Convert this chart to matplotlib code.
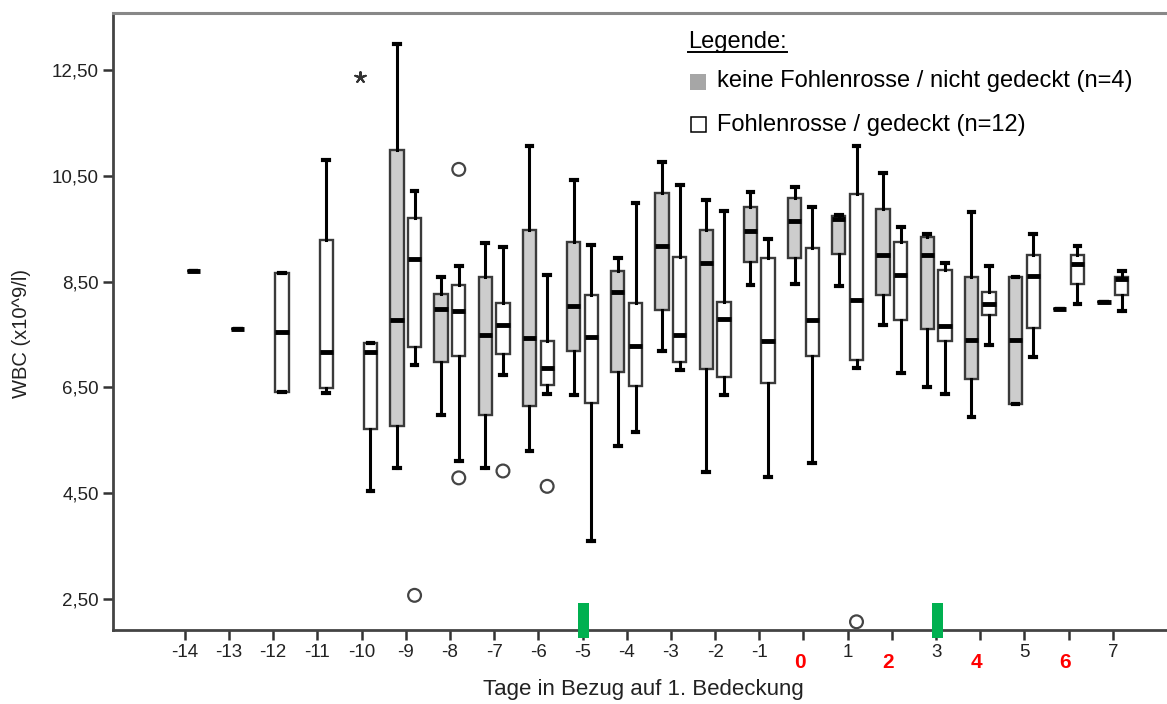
"""WBC boxplots per day relative to first covering, two mare groups"""

import matplotlib
matplotlib.use("Agg")
import matplotlib.pyplot as plt
from matplotlib.patches import Rectangle
from matplotlib.lines import Line2D

plt.rcParams["font.family"] = ["Liberation Sans", "DejaVu Sans"]

W, H = 1167, 704

# days with data, group without foal heat (grey boxes)
gray_days = [-9, -8, -7, -6, -5, -4, -3, -2, -1, 0, 1, 2, 3, 4, 5, 6, 7]
gray_lo = [4.98, 5.98, 4.98, 5.29, 6.36, 5.40, 7.18, 4.90, 8.44, 8.46, 8.42, 7.67, 6.50, 5.94, 6.19, 7.98, 8.11]
gray_q1 = [5.77, 6.98, 5.98, 6.14, 7.18, 6.79, 7.97, 6.84, 8.86, 8.94, 9.02, 8.25, 7.61, 6.66, 6.19, 7.98, 8.11]
gray_med = [7.78, 7.99, 7.49, 7.43, 8.03, 8.30, 9.17, 8.85, 9.45, 9.65, 9.68, 9.01, 9.01, 7.39, 7.40, 7.98, 8.11]
gray_q3 = [10.98, 8.27, 8.59, 9.47, 9.24, 8.69, 10.18, 9.48, 9.90, 10.07, 9.74, 9.87, 9.34, 8.59, 8.59, 7.98, 8.11]
gray_hi = [12.98, 8.58, 9.23, 11.06, 10.41, 8.95, 10.76, 10.04, 10.20, 10.28, 9.76, 10.55, 9.39, 9.81, 8.59, 7.98, 8.11]

# group with foal heat / covered (white boxes)
white_days = list(range(-14, 8))
white_lo = [8.69, 7.61, 6.41, 6.39, 4.54, 6.92, 5.11, 6.74, 6.37, 3.60, 5.66,
            6.82, 6.36, 4.81, 5.08, 6.86, 6.78, 6.37, 7.31, 7.07, 8.08, 7.94]
white_q1 = [8.69, 7.61, 6.41, 6.49, 5.71, 7.27, 7.10, 7.14, 6.55, 6.21, 6.52,
            6.98, 6.69, 6.59, 7.09, 7.02, 7.78, 7.37, 7.86, 7.62, 8.46, 8.24]
white_med = [8.69, 7.61, 7.54, 7.17, 7.16, 8.93, 7.95, 7.68, 6.87, 7.46, 7.29,
             7.49, 7.79, 7.38, 7.78, 8.15, 8.63, 7.66, 8.07, 8.60, 8.83, 8.54]
white_q3 = [8.69, 7.61, 8.66, 9.29, 7.33, 9.71, 8.44, 8.10, 7.37, 8.25, 8.10,
            8.96, 8.12, 8.95, 9.14, 10.15, 9.24, 8.72, 8.31, 9.01, 9.00, 8.59]
white_hi = [8.69, 7.61, 8.66, 10.80, 7.33, 10.21, 8.79, 9.15, 8.62, 9.19, 9.98,
            10.32, 9.84, 9.31, 9.90, 11.07, 9.53, 8.85, 8.79, 9.40, 9.17, 8.69]

# outliers (circles) and extreme values (stars) of the white group
outlier_days = [-9, -8, -8, -7, -6, 1]
outlier_vals = [2.57, 10.62, 4.79, 4.92, 4.63, 2.07]
extreme_days = [-10]
extreme_vals = [12.37]

# coverings
cover_days = [-5, 3]

red_days = [0, 2, 4, 6]
yticks = [2.5, 4.5, 6.5, 8.5, 10.5, 12.5]

OFF = 0.2
BW = 0.3


def make_stats(lo, q1, med, q3, hi):
    return [dict(whislo=a, q1=b, med=c, q3=d, whishi=e, fliers=[])
            for a, b, c, d, e in zip(lo, q1, med, q3, hi)]


fig = plt.figure(figsize=(W / 100, H / 100), dpi=100)
ax = fig.add_axes([113 / W, 1 - 630 / H, 1 - 113 / W + 0.01, (630 - 13) / H])

common = dict(widths=BW, patch_artist=True, manage_ticks=False, capwidths=0.13,
              whiskerprops=dict(color="black", linewidth=2.2),
              capprops=dict(color="black", linewidth=3),
              medianprops=dict(color="black", linewidth=3.5, solid_capstyle="butt"))

ax.bxp(make_stats(gray_lo, gray_q1, gray_med, gray_q3, gray_hi),
       positions=[d - OFF for d in gray_days],
       boxprops=dict(facecolor="#cdcdcd", edgecolor="#3a3a3a", linewidth=1.7),
       **common)
ax.bxp(make_stats(white_lo, white_q1, white_med, white_q3, white_hi),
       positions=[d + OFF for d in white_days],
       boxprops=dict(facecolor="white", edgecolor="#3a3a3a", linewidth=1.7),
       **common)

ax.scatter([d + OFF for d in outlier_days], outlier_vals, s=85, marker="o",
           facecolors="none", edgecolors="#444444", linewidths=1.6, zorder=4)
ax.scatter([d - 0.03 for d in extreme_days], extreme_vals, s=60, marker=(5, 2, 0),
           color="#333333", linewidths=1.5, zorder=4)

# green covering markers on the axis line
ax.bar([d + 0.03 for d in cover_days], 0.66, bottom=1.76, width=0.25,
       color="#00b050", clip_on=False, zorder=5)

ax.set_xlim(-15.624, 8.49)
ax.set_ylim(1.915, 13.575)

ax.set_yticks(yticks)
ax.set_yticklabels([f"{v:.2f}".replace(".", ",") for v in yticks])
ax.set_xticks(white_days)
ax.set_xticklabels(["" if d in red_days else str(d) for d in white_days])
ax.tick_params(axis="both", labelsize=13.5, colors="#333333", width=1.8,
               length=7.2, direction="out")
ax.tick_params(axis="x", pad=3, labelcolor="#222222")
ax.tick_params(axis="y", pad=3, labelcolor="#222222")

for d in red_days:
    ax.text(d - 0.08, -0.052, str(d), transform=ax.get_xaxis_transform(),
            color="red", fontsize=15, fontweight="bold", ha="center", va="center")

for side in ["left", "bottom"]:
    ax.spines[side].set_color("#444444")
    ax.spines[side].set_linewidth(2)
ax.spines["top"].set_color("#888888")
ax.spines["top"].set_linewidth(2.2)
ax.spines["right"].set_visible(False)

fig.text(22 / W, 1 - 333 / H, "WBC (x10^9/l)", rotation=90, fontsize=14.5,
         color="#222222", ha="center", va="center")
fig.text(643 / W, 1 - 689 / H, "Tage in Bezug auf 1. Bedeckung", fontsize=16,
         color="#222222", ha="center", va="center")

# legend
fig.text(688 / W, 1 - 42 / H, "Legende:", fontsize=17, ha="left", va="center")
fig.add_artist(Line2D([688 / W, 787 / W], [1 - 52 / H, 1 - 52 / H],
                      transform=fig.transFigure, color="black", linewidth=1.4))
fig.add_artist(Rectangle((690 / W, 1 - 90 / H), 16 / W, 16 / H,
                         transform=fig.transFigure, facecolor="#a6a6a6",
                         edgecolor="none"))
fig.text(717 / W, 1 - 81 / H, "keine Fohlenrosse / nicht gedeckt (n=4)",
         fontsize=17, ha="left", va="center")
fig.add_artist(Rectangle((690.5 / W, 1 - 132 / H), 15.5 / W, 15.5 / H,
                         transform=fig.transFigure, facecolor="white",
                         edgecolor="black", linewidth=1.1))
fig.text(717 / W, 1 - 125 / H, "Fohlenrosse / gedeckt (n=12)",
         fontsize=17, ha="left", va="center")

fig.savefig("out.png", dpi=100)
